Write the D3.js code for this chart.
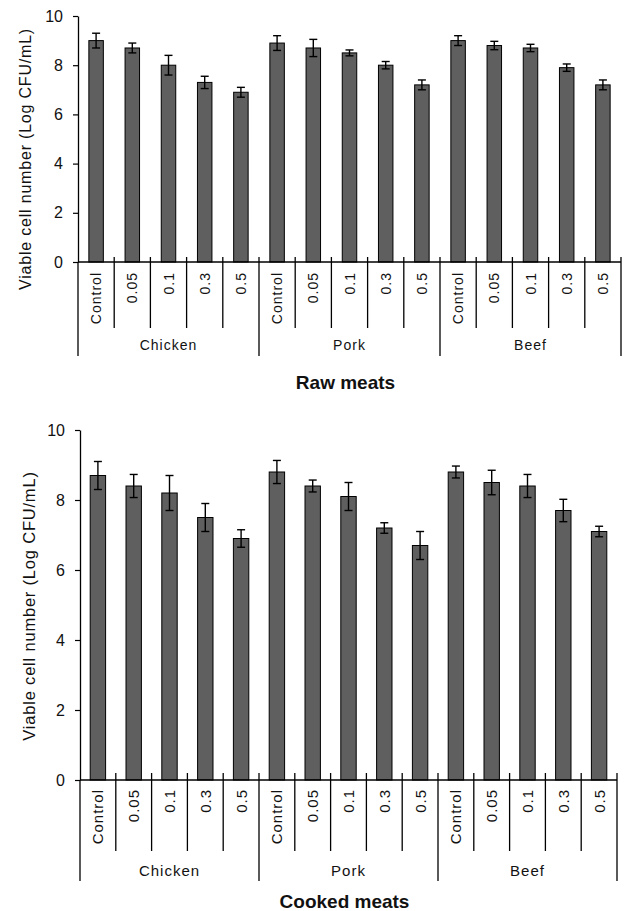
<!DOCTYPE html>
<html>
<head>
<meta charset="utf-8">
<title>Viable cell number</title>
<script src="https://d3js.org/d3.v7.min.js"></script>
<style>
  body { margin: 0; background: #fff; }
  svg text { font-family: "Liberation Sans", Arial, sans-serif; fill: #111; }
  .bar { fill: #5f5f5f; stroke: #000; stroke-width: 1; }
  .err { stroke: #000; stroke-width: 1.4; }
  .sep { stroke: #000; stroke-width: 1.3; }
</style>
</head>
<body>
<div id="chart"></div>
<script>
"use strict"
// data
const groups = ["Chicken", "Pork", "Beef"];
const levels = ["Control", "0.05", "0.1", "0.3", "0.5"];
const yTicks = [0, 2, 4, 6, 8, 10];
const rawMeans = [9.0, 8.7, 8.0, 7.3, 6.9, 8.9, 8.7, 8.5, 8.0, 7.2, 9.0, 8.8, 8.7, 7.9, 7.2];
const rawErrors = [0.3, 0.2, 0.4, 0.25, 0.2, 0.3, 0.35, 0.12, 0.15, 0.2, 0.2, 0.17, 0.15, 0.15, 0.2];
const cookedMeans = [8.7, 8.4, 8.2, 7.5, 6.9, 8.8, 8.4, 8.1, 7.2, 6.7, 8.8, 8.5, 8.4, 7.7, 7.1];
const cookedErrors = [0.4, 0.33, 0.5, 0.4, 0.25, 0.33, 0.17, 0.4, 0.15, 0.4, 0.17, 0.35, 0.33, 0.32, 0.15];

const svg = d3.select("#chart").append("svg")
  .attr("width", 628).attr("height", 911);

function drawPanel(opt) {
  const cats = [];
  groups.forEach(g => levels.forEach(l => cats.push(g + "|" + l)));
  const rows = cats.map((c, i) => ({ key: c, level: c.split("|")[1], mean: opt.means[i], err: opt.errors[i] }));

  const x = d3.scaleBand().domain(cats).range([opt.x0, opt.x1])
    .paddingInner(opt.pad).paddingOuter(opt.pad / 2);
  const edge = d3.scaleLinear().domain([0, cats.length]).range([opt.x0, opt.x1]);
  const y = d3.scaleLinear().domain([0, 10]).range([opt.y0, opt.y10]);
  const g = svg.append("g");

  // bars
  g.selectAll("rect.bar").data(rows).enter().append("rect")
    .attr("class", "bar")
    .attr("x", d => x(d.key))
    .attr("width", x.bandwidth())
    .attr("y", d => y(d.mean))
    .attr("height", d => y(0) - y(d.mean));

  // error bars
  const cap = 4;
  const eb = g.selectAll("g.eb").data(rows).enter().append("g");
  eb.append("line").attr("class", "err")
    .attr("x1", d => x(d.key) + x.bandwidth() / 2).attr("x2", d => x(d.key) + x.bandwidth() / 2)
    .attr("y1", d => y(d.mean + d.err)).attr("y2", d => y(d.mean - d.err));
  eb.append("line").attr("class", "err")
    .attr("x1", d => x(d.key) + x.bandwidth() / 2 - cap).attr("x2", d => x(d.key) + x.bandwidth() / 2 + cap)
    .attr("y1", d => y(d.mean + d.err)).attr("y2", d => y(d.mean + d.err));
  eb.append("line").attr("class", "err")
    .attr("x1", d => x(d.key) + x.bandwidth() / 2 - cap).attr("x2", d => x(d.key) + x.bandwidth() / 2 + cap)
    .attr("y1", d => y(d.mean - d.err)).attr("y2", d => y(d.mean - d.err));

  // y axis
  const ya = g.append("g")
    .attr("transform", "translate(" + opt.x0 + ",0)")
    .call(d3.axisLeft(y).tickValues(yTicks).tickSize(5).tickSizeOuter(0).tickPadding(10));
  ya.select(".domain").attr("stroke", "#000").attr("stroke-width", 1.3);
  ya.selectAll(".tick line").attr("stroke", "#000").attr("stroke-width", 1.2);
  ya.selectAll("text").style("font-size", "16px").attr("fill", "#111");

  // x axis line and separators
  g.append("line").attr("class", "sep")
    .attr("x1", opt.x0).attr("x2", opt.x1).attr("y1", opt.y0).attr("y2", opt.y0);
  d3.range(cats.length + 1).forEach(i => {
    const major = i % levels.length === 0;
    g.append("line").attr("class", "sep")
      .attr("x1", edge(i)).attr("x2", edge(i))
      .attr("y1", i === 0 ? opt.y0 : opt.y0 - opt.up)
      .attr("y2", major ? opt.majorEnd : opt.minorEnd);
  });

  // category labels (rotated)
  g.selectAll("text.cat").data(rows).enter().append("text")
    .attr("class", "cat")
    .attr("transform", d => "translate(" + (x(d.key) + x.bandwidth() / 2) + "," + opt.catTop + ") rotate(-90)")
    .attr("dy", "0.36em")
    .attr("text-anchor", "end")
    .style("font-size", opt.catSize + "px")
    .style("letter-spacing", "1px")
    .text(d => d.level);

  // group labels
  g.selectAll("text.grp").data(groups).enter().append("text")
    .attr("x", (d, i) => (edge(i * levels.length) + edge((i + 1) * levels.length)) / 2)
    .attr("y", opt.grpY)
    .attr("text-anchor", "middle")
    .style("font-size", opt.catSize + "px")
    .style("letter-spacing", "1px")
    .text(d => d);

  // title
  g.append("text")
    .attr("x", (opt.x0 + opt.x1) / 2 - 4)
    .attr("y", opt.titleY)
    .attr("text-anchor", "middle")
    .style("font-size", "19px").style("font-weight", "bold")
    .text(opt.title);

  // y label
  g.append("text")
    .attr("transform", "translate(" + opt.ylX + "," + opt.ylY + ") rotate(-90)")
    .attr("dy", "0.36em")
    .attr("text-anchor", "middle")
    .style("font-size", opt.ylSize + "px")
    .style("letter-spacing", "0.8px")
    .text("Viable cell number (Log CFU/mL)");
}

drawPanel({
  means: rawMeans, errors: rawErrors, title: "Raw meats",
  x0: 78, x1: 621, y0: 262, y10: 16, pad: 0.6,
  up: 5, minorEnd: 328, majorEnd: 356, catTop: 272, catSize: 14,
  grpY: 350, titleY: 389, ylX: 25, ylY: 159, ylSize: 16
});

drawPanel({
  means: cookedMeans, errors: cookedErrors, title: "Cooked meats",
  x0: 80, x1: 617, y0: 780, y10: 430, pad: 0.57,
  up: 7, minorEnd: 851, majorEnd: 881, catTop: 789, catSize: 15,
  grpY: 876, titleY: 908, ylX: 29, ylY: 606, ylSize: 16.5
});
</script>
</body>
</html>
